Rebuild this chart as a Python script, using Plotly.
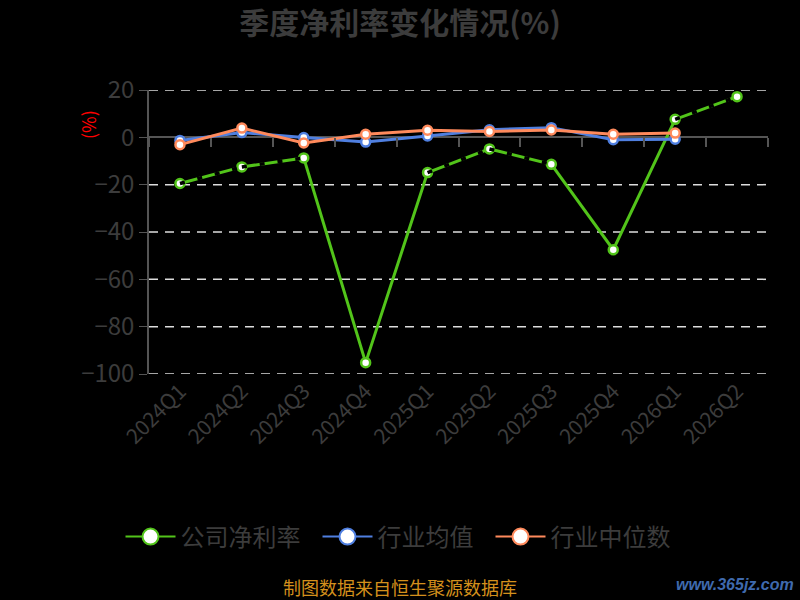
import plotly.graph_objects as go

# 季度标签与数值 (%)
quarters = ['2024Q1', '2024Q2', '2024Q3', '2024Q4', '2025Q1',
            '2025Q2', '2025Q3', '2025Q4', '2026Q1', '2026Q2']
company = [-19.5, -12.5, -8.7, -95.2, -14.9, -4.9, -11.4, -47.5, 7.6, 17.2]
ind_mean = [-1.3, 2.0, -0.1, -2.0, 0.6, 3.2, 4.1, -1.0, -0.8, None]
ind_median = [-3.1, 3.9, -2.4, 1.3, 3.0, 2.5, 3.1, 1.3, 1.8, None]
y_ticks = [20, 0, -20, -40, -60, -80, -100]

# segments of the company line that carry the dashed look
dashed_segments = [(0, 1), (1, 2), (4, 5), (5, 6), (8, 9)]

FONT = 'Noto Sans CJK SC'
GREY = '#3c3c3c'
GREEN, BLUE, ORANGE = '#52c41a', '#4f7fe0', '#ff8a5c'

fig = go.Figure()

series = [('公司净利率', company, GREEN),
          ('行业均值', ind_mean, BLUE),
          ('行业中位数', ind_median, ORANGE)]

for i, (name, vals, col) in enumerate(series):
    fig.add_trace(go.Scatter(
        x=quarters, y=vals, name=name, mode='lines+markers', showlegend=False,
        line=dict(color=col, width=3),
        marker=dict(size=9, color='white', line=dict(color=col, width=2.5)),
    ))
    if i == 0:
        # black dash overlay on the flatter green segments
        ox, oy = [], []
        for a, b in dashed_segments:
            ox += [quarters[a], quarters[b], None]
            oy += [company[a], company[b], None]
        fig.add_trace(go.Scatter(
            x=ox, y=oy, mode='lines', showlegend=False, hoverinfo='skip',
            line=dict(color='black', width=3.5, dash='5px,13px'),
        ))

# legend-only entries with bigger symbols
for name, vals, col in series:
    fig.add_trace(go.Scatter(
        x=[None], y=[None], name=name + '\u2002', mode='lines+markers',
        line=dict(color=col, width=2),
        marker=dict(size=20, color='white', line=dict(color=col, width=2)),
    ))

# invisible helper trace so the zero-line axis gets its categories
fig.add_trace(go.Scatter(
    x=quarters, y=[0] * len(quarters), xaxis='x2', mode='markers',
    marker=dict(opacity=0), showlegend=False, hoverinfo='skip',
))

y_min, y_max = y_ticks[-1], y_ticks[0]
zero_pos = (0 - y_min) / (y_max - y_min)

# dashed horizontal grid lines (plotly drops the ones on the plot edges)
for v in y_ticks:
    if v != 0:
        fig.add_hline(y=v, line=dict(color='#dddddd', width=1.5, dash='9px,7px'),
                      layer='below')

L, R, T, B = 149, 32, 90, 226
pw, ph = 800 - L - R, 600 - T - B


def px(x):
    return (x - L) / pw


def py(y):
    return (600 - B - y) / ph


fig.update_layout(
    width=800, height=600,
    paper_bgcolor='black', plot_bgcolor='black',
    margin=dict(l=L, r=R, t=T, b=B),
    font=dict(family=FONT, color=GREY),
    title=dict(text='<b>季度净利率变化情况(%)</b>', x=0.5, xanchor='center',
               y=1 - 23 / 600, yanchor='middle', font=dict(size=30, color='#3c3c3c')),
    xaxis=dict(
        type='category', categoryorder='array', categoryarray=quarters,
        range=[-0.5, len(quarters) - 0.5],
        showline=False, showgrid=False, zeroline=False, ticks='',
        tickangle=-45, tickfont=dict(size=21, color=GREY),
    ),
    xaxis2=dict(
        type='category', categoryorder='array', categoryarray=quarters,
        range=[-0.5, len(quarters) - 0.5],
        overlaying='x', anchor='free', position=zero_pos,
        showticklabels=False, showgrid=False, zeroline=False,
        showline=False, ticks='outside', tickson='boundaries',
        ticklen=9, tickwidth=1.5, tickcolor='#555',
    ),
    yaxis=dict(
        range=[y_min, y_max], tickvals=y_ticks,
        showgrid=False,
        zeroline=True, zerolinecolor='#555', zerolinewidth=2,
        showline=True, linecolor='#555', linewidth=1.5,
        ticks='outside', ticklen=8, tickcolor='#555',
        tickfont=dict(size=24, color=GREY),
    ),
    legend=dict(
        orientation='h', x=px(404), xanchor='center', y=py(537), yanchor='middle',
        font=dict(size=24, color=GREY), bgcolor='rgba(0,0,0,0)',
        itemwidth=50, traceorder='normal',
    ),
    showlegend=True,
)

fig.add_annotation(
    text='(%)', textangle=-90, xref='paper', yref='paper',
    x=px(88), y=py(125), xanchor='center', yanchor='middle', showarrow=False,
    font=dict(size=18, color='#ff0000'),
)
fig.add_annotation(
    text='制图数据来自恒生聚源数据库', xref='paper', yref='paper',
    x=px(400), y=py(587), xanchor='center', yanchor='middle', showarrow=False,
    font=dict(size=18, color='#d4901c'),
)
fig.add_annotation(
    text='<b><i>www.365jz.com</i></b>', xref='paper', yref='paper',
    x=px(735), y=py(584), xanchor='center', yanchor='middle', showarrow=False,
    font=dict(size=16, color='#3f6aae', family='Liberation Sans'),
)

fig.write_html(
    'out.html',
    config={'displayModeBar': False},
    post_script="document.body.style.margin='0';document.body.style.background='black';",
)
